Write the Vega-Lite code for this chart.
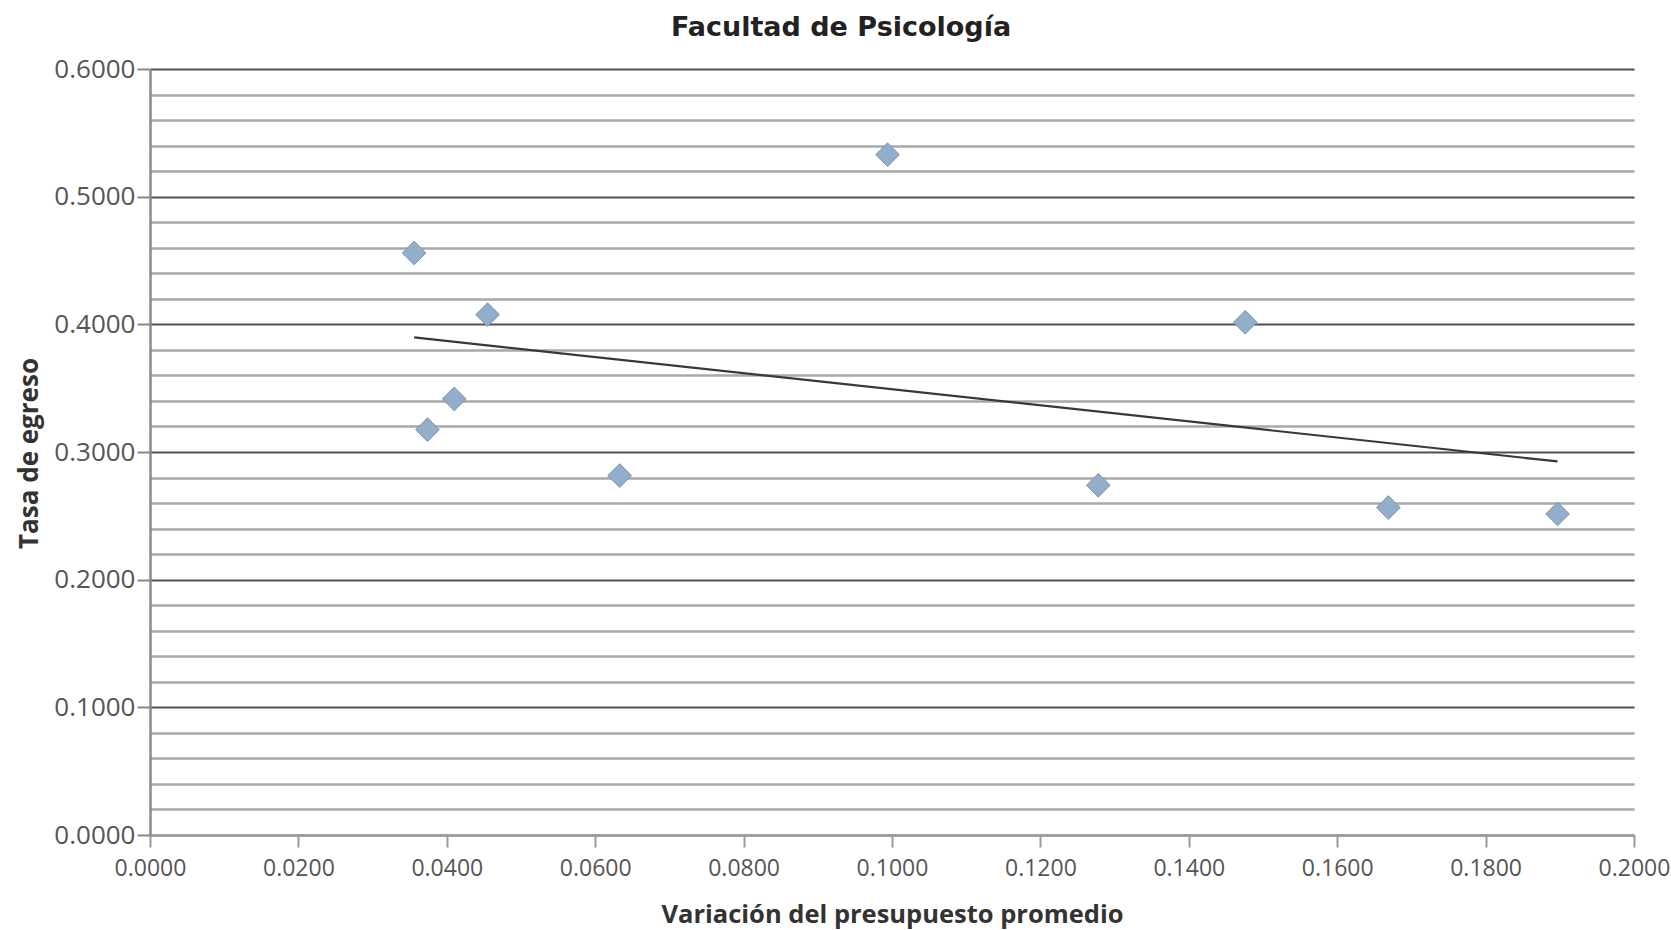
{
  "$schema": "https://vega.github.io/schema/vega-lite/v6.json",
  "width": 1484,
  "height": 766,
  "autosize": {"type": "none"},
  "padding": {"left": 150, "top": 69, "right": 37, "bottom": 95},
  "background": "white",
  "title": {
    "text": "Facultad de Psicología",
    "font": "DejaVu Sans",
    "fontSize": 27,
    "fontWeight": "bold",
    "color": "#222222",
    "anchor": "middle",
    "frame": "group",
    "dx": -51,
    "baseline": "alphabetic",
    "offset": -7
  },
  "config": {"view": {"stroke": null}},
  "data": {
    "values": [
      {"x": 0.0356, "y": 0.4559},
      {"x": 0.0374, "y": 0.3175},
      {"x": 0.0410, "y": 0.3416},
      {"x": 0.0455, "y": 0.4076},
      {"x": 0.0633, "y": 0.2815},
      {"x": 0.0994, "y": 0.5329},
      {"x": 0.1278, "y": 0.2739},
      {"x": 0.1476, "y": 0.4016},
      {"x": 0.1669, "y": 0.2565},
      {"x": 0.1897, "y": 0.2515}
    ]
  },
  "encoding": {
    "x": {
      "field": "x",
      "type": "quantitative",
      "title": "Variación del presupuesto promedio",
      "scale": {"domain": [0, 0.2], "nice": false, "zero": false},
      "axis": {
        "values": [0, 0.02, 0.04, 0.06, 0.08, 0.1, 0.12, 0.14, 0.16, 0.18, 0.2],
        "format": ".4f",
        "grid": false,
        "domainColor": "#9a9a9a",
        "domainWidth": 2.5,
        "tickColor": "#9a9a9a",
        "tickWidth": 2,
        "tickSize": 12,
        "labelFont": "Open Sans",
        "labelFontSize": 23,
        "labelColor": "#555555",
        "labelPadding": 10,
        "labelFlush": false,
        "labelOverlap": false,
        "titleFont": "Open Sans",
        "titleFontSize": 25.5,
        "titleFontWeight": "bold",
        "titleColor": "#333333",
        "titleBaseline": "alphabetic",
        "titleY": 87
      }
    },
    "y": {
      "field": "y",
      "type": "quantitative",
      "title": "Tasa de egreso",
      "scale": {"domain": [0, 0.6], "nice": false},
      "axis": {
        "values": [0, 0.02, 0.04, 0.06, 0.08, 0.1, 0.12, 0.14, 0.16, 0.18, 0.2, 0.22, 0.24, 0.26, 0.28, 0.3, 0.32, 0.34, 0.36, 0.38, 0.4, 0.42, 0.44, 0.46, 0.48, 0.5, 0.52, 0.54, 0.56, 0.58, 0.6],
        "grid": true,
        "gridColor": {"condition": {"test": "datum.value > 0.05 && abs(datum.value*10 - round(datum.value*10)) < 0.001", "value": "#505050"}, "value": "#a8a8a8"},
        "gridWidth": {"condition": {"test": "datum.value > 0.05 && abs(datum.value*10 - round(datum.value*10)) < 0.001", "value": 2.2}, "value": 2.6},
        "tickOpacity": {"condition": {"test": "abs(datum.value*10 - round(datum.value*10)) < 0.001", "value": 1}, "value": 0},
        "labelExpr": "abs(datum.value*10 - round(datum.value*10)) < 0.001 ? format(datum.value, '.4f') : ''",
        "tickColor": "#888888",
        "tickWidth": 2,
        "tickSize": 13,
        "domainColor": "#8a8a8a",
        "domainWidth": 2.5,
        "labelFont": "Open Sans",
        "labelFontSize": 26,
        "labelColor": "#555555",
        "labelPadding": 2,
        "labelOverlap": false,
        "labelFlush": false,
        "titleFont": "Open Sans",
        "titleFontSize": 26,
        "titleFontWeight": "bold",
        "titleColor": "#333333",
        "titleBaseline": "alphabetic",
        "titleAlign": "center",
        "titleAngle": -90,
        "titleX": -113,
        "titleY": 384
      }
    }
  },
  "layer": [
    {
      "transform": [{"regression": "y", "on": "x"}],
      "mark": {"type": "line", "color": "#383838", "strokeWidth": 2.2}
    },
    {
      "mark": {"type": "point", "shape": "diamond", "filled": true, "size": 560, "fill": "#92aeca", "stroke": "#7a93ab", "strokeWidth": 1, "opacity": 1}
    }
  ]
}
